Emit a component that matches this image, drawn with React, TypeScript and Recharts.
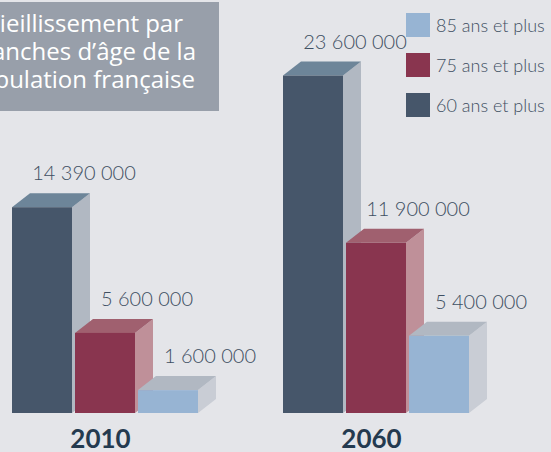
import React from 'react';
import { BarChart, Bar, XAxis, YAxis, LabelList, Customized } from 'recharts';

const years = ['2010', '2060'];
const plus60 = [14390000, 23600000];
const plus75 = [5600000, 11900000];
const plus85 = [1600000, 5400000];
const seriesNames = ['60 ans et plus', '75 ans et plus', '85 ans et plus'];
const titleLines = ['Vieillissement par', 'tranches d\u2019âge de la', 'population française'];

const data = years.map((y, i) => ({ year: y, s60: plus60[i], s75: plus75[i], s85: plus85[i] }));

const palettes: Record<string, { front: string; top: string; side: string }> = {
  s60: { front: '#46566a', top: '#6d8599', side: '#b1b8c2' },
  s75: { front: '#89354f', top: '#a0606f', side: '#bf9099' },
  s85: { front: '#97b4d3', top: '#b1b8c2', side: '#c9cdd5' },
};

const DX = 18;
const DY = 14;

const makeShape = (key: string) => (props: any) => {
  const { x, y, width, height } = props;
  const p = palettes[key];
  if (height == null || width == null) return null;
  const side = `${x + width},${y} ${x + width + DX},${y - DY} ${x + width + DX},${y + height - DY} ${x + width},${y + height}`;
  const top = `${x},${y} ${x + DX},${y - DY} ${x + width + DX},${y - DY} ${x + width},${y}`;
  return (
    <g>
      <polygon points={side} fill={p.side} />
      <polygon points={top} fill={p.top} />
      <rect x={x} y={y} width={width} height={height} fill={p.front} />
    </g>
  );
};

const fmt = (v: number) => String(v).replace(/\B(?=(\d{3})+(?!\d))/g, ' ');

const LEGEND_LEFT = 406;
const LEGEND_TOP = 13;

const renderLabel = (props: any) => {
  const { x, y, width, value } = props;
  let cx = x + width / 2 + 42;
  let by = y - 27;
  const halfW = 50;
  if (y < 130 && cx + halfW > LEGEND_LEFT) {
    cx = LEGEND_LEFT - 25 - halfW;
    by = LEGEND_TOP + 20;
  }
  return (
    <text x={cx} y={by} textAnchor="middle" fontSize={20} fontFamily="Lato" fontWeight={300} fill="#3e4f62">
      {fmt(value)}
    </text>
  );
};

const YearTick = (props: any) => {
  const { x, y, payload } = props;
  return (
    <text x={x - 4} y={y + 27} textAnchor="middle" fontSize={26} fontFamily="Lato" fontWeight={700} fill="#243a4f">
      {payload.value}
    </text>
  );
};

const legendColors = [palettes.s85.front, palettes.s75.front, palettes.s60.front];
const legendNames = [seriesNames[2], seriesNames[1], seriesNames[0]];

const LegendSvg = () => (
  <g>
    {legendNames.map((n, i) => (
      <g key={n}>
        <rect x={LEGEND_LEFT} y={LEGEND_TOP + i * 40} width={24} height={24} fill={legendColors[i]} />
        <text x={LEGEND_LEFT + 30} y={LEGEND_TOP + i * 40 + 19} fontSize={18} fontFamily="Lato" fontWeight={300} fill="#3e4f62">
          {n}
        </text>
      </g>
    ))}
  </g>
);

const titleEnds = [183, 196, 195];

const TitleBox = () => (
  <g>
    <rect x={0} y={2} width={219} height={109} fill="#989faa" />
    {titleLines.map((t, i) => (
      <text key={i} x={titleEnds[i]} y={32 + i * 28} textAnchor="end" fontSize={24} fontFamily="Open Sans" fill="#ffffff">
        {t}
      </text>
    ))}
  </g>
);

export default function App() {
  return (
    <div style={{ position: 'absolute', left: 0, top: 0, width: 551, height: 452, background: '#e4e5e9' }}>
      <BarChart
        width={551}
        height={452}
        data={data}
        margin={{ top: 55.5, right: 40, left: -31, bottom: 0 }}
        barSize={60}
        barGap={3}
      >
        <Customized component={TitleBox} />
        <Customized component={LegendSvg} />
        <XAxis dataKey="year" axisLine={false} tickLine={false} height={39} tick={<YearTick />} interval={0} />
        <YAxis hide domain={[0, 25000000]} />
        <Bar dataKey="s60" name={seriesNames[0]} fill={palettes.s60.front} shape={makeShape('s60')} isAnimationActive={false}>
          <LabelList dataKey="s60" content={renderLabel} />
        </Bar>
        <Bar dataKey="s75" name={seriesNames[1]} fill={palettes.s75.front} shape={makeShape('s75')} isAnimationActive={false}>
          <LabelList dataKey="s75" content={renderLabel} />
        </Bar>
        <Bar dataKey="s85" name={seriesNames[2]} fill={palettes.s85.front} shape={makeShape('s85')} isAnimationActive={false}>
          <LabelList dataKey="s85" content={renderLabel} />
        </Bar>
      </BarChart>
    </div>
  );
}
